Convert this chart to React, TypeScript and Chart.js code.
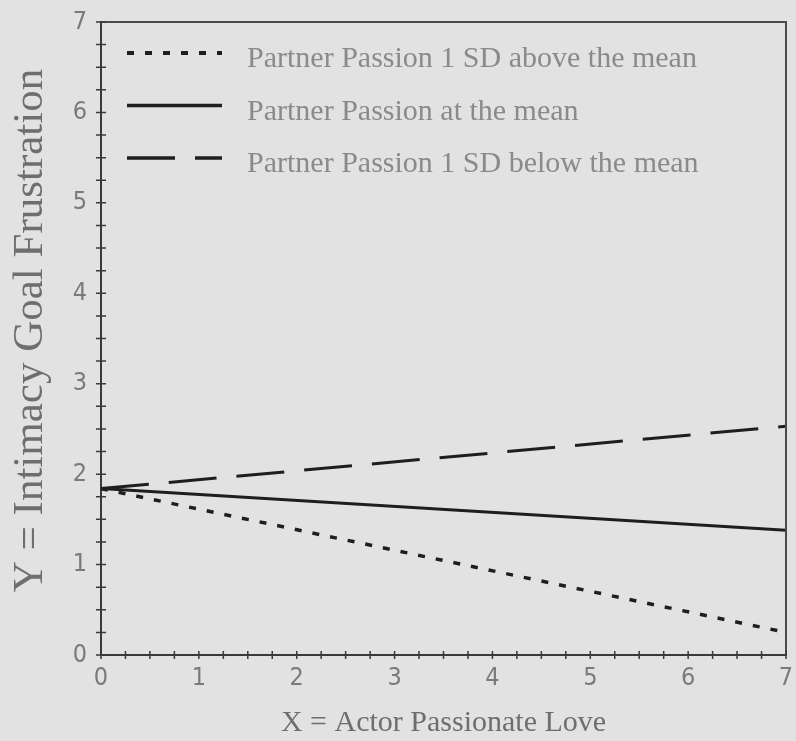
import React, { useEffect, useRef } from "react";
import { Chart, registerables } from "chart.js";

Chart.register(...registerables);

// ---- data ----
const xValues = [0, 7];
const aboveMean = [1.84, 0.25];
const atMean = [1.84, 1.38];
const belowMean = [1.84, 2.53];
const seriesLabels = [
  "Partner Passion 1 SD above the mean",
  "Partner Passion at the mean",
  "Partner Passion 1 SD below the mean",
];
const xTitle = "X = Actor Passionate Love";
const yTitle = "Y = Intimacy Goal Frustration";
const axisMin = 0;
const axisMax = 7;
const minorStep = 0.25;

const LINE_COLOR = "#1e1e1e";
const AXIS_COLOR = "#3a3a3a";
const SERIF = "'Liberation Serif', 'Times New Roman', serif";
const SANS_NARROW = "'Liberation Sans Narrow', 'DejaVu Sans Condensed', 'Liberation Sans', sans-serif";

const crossTicks = {
  id: "crossTicks",
  afterDraw(chart: any) {
    const { ctx, chartArea, scales } = chart;
    const xs = scales.x;
    const ys = scales.y;
    ctx.save();
    ctx.beginPath();
    ctx.moveTo(chartArea.left, chartArea.top);
    ctx.lineTo(chartArea.right, chartArea.top);
    ctx.lineTo(chartArea.right, chartArea.bottom);
    ctx.strokeStyle = "#4a4a4a";
    ctx.lineWidth = 2;
    ctx.stroke();
    ctx.strokeStyle = AXIS_COLOR;
    ctx.lineWidth = 1.5;
    ctx.beginPath();
    xs.ticks.forEach((t: any) => {
      const px = xs.getPixelForValue(t.value);
      ctx.moveTo(px, chartArea.bottom - 4);
      ctx.lineTo(px, chartArea.bottom + 4);
    });
    ys.ticks.forEach((t: any) => {
      const py = ys.getPixelForValue(t.value);
      ctx.moveTo(chartArea.left - 5, py);
      ctx.lineTo(chartArea.left + 5, py);
    });
    ctx.stroke();
    // y axis title
    ctx.save();
    ctx.translate(31, (chartArea.top + chartArea.bottom) / 2 - 8);
    ctx.rotate(-Math.PI / 2);
    ctx.font = `43px ${SERIF}`;
    ctx.fillStyle = "#6e6e6e";
    ctx.textAlign = "center";
    ctx.textBaseline = "middle";
    ctx.fillText(yTitle, 0, 0);
    ctx.restore();
    ctx.restore();
  },
};

const insideLegend = {
  id: "insideLegend",
  afterDraw(chart: any) {
    const { ctx, chartArea } = chart;
    ctx.save();
    const lineStart = chartArea.left + 26;
    const lineEnd = chartArea.left + 121;
    const textX = chartArea.left + 146;
    const firstY = chartArea.top + 31;
    const rowGap = 52.5;
    chart.data.datasets.forEach((ds: any, i: number) => {
      const y = firstY + i * rowGap;
      ctx.beginPath();
      ctx.strokeStyle = ds.borderColor;
      ctx.lineWidth = ds.borderWidth + 0.5;
      ctx.setLineDash(ds.borderDash || []);
      ctx.moveTo(lineStart, y);
      ctx.lineTo(lineEnd, y);
      ctx.stroke();
      ctx.setLineDash([]);
      ctx.fillStyle = "#8a8a8a";
      ctx.font = `30px ${SERIF}`;
      ctx.textBaseline = "alphabetic";
      ctx.textAlign = "left";
      ctx.fillText(ds.label, textX, y + 14);
    });
    ctx.restore();
  },
};

function toPoints(ys: number[]) {
  return xValues.map((x, i) => ({ x, y: ys[i] }));
}

export default function App() {
  const ref = useRef<HTMLCanvasElement | null>(null);
  useEffect(() => {
    if (!ref.current) return;
    const chart = new Chart(ref.current, {
      type: "line",
      data: {
        datasets: [
          {
            label: seriesLabels[0],
            data: toPoints(aboveMean),
            borderColor: LINE_COLOR,
            borderWidth: 3.5,
            borderDash: [7, 11],
            pointRadius: 0,
            fill: false,
          },
          {
            label: seriesLabels[1],
            data: toPoints(atMean),
            borderColor: LINE_COLOR,
            borderWidth: 3,
            borderDash: [],
            pointRadius: 0,
            fill: false,
          },
          {
            label: seriesLabels[2],
            data: toPoints(belowMean),
            borderColor: LINE_COLOR,
            borderWidth: 3,
            borderDash: [48, 20],
            pointRadius: 0,
            fill: false,
          },
        ],
      },
      options: {
        responsive: false,
        animation: false,
        layout: { padding: { top: 22, right: 10, left: 0, bottom: 0 } },
        plugins: {
          legend: { display: false },
          tooltip: { enabled: false },
        },
        scales: {
          x: {
            type: "linear",
            min: axisMin,
            max: axisMax,
            afterFit: (s: any) => {
              s.height = 86;
              s.paddingLeft = 0;
              s.paddingRight = 0;
            },
            grid: { display: false, drawTicks: false },
            border: { display: true, color: AXIS_COLOR, width: 2 },
            ticks: {
              stepSize: minorStep,
              autoSkip: false,
              maxRotation: 0,
              padding: 8,
              color: "#7a7a7a",
              font: { family: SANS_NARROW, size: 25 },
              callback: (v: any) => (Number(v) % 1 === 0 ? String(v) : ""),
            },
            title: {
              display: true,
              text: xTitle,
              color: "#6e6e6e",
              font: { family: SERIF, size: 30 },
              padding: { top: 0, bottom: 0 },
            },
          },
          y: {
            type: "linear",
            min: axisMin,
            max: axisMax,
            afterFit: (s: any) => {
              s.width = 101;
              s.paddingTop = 0;
              s.paddingBottom = 0;
            },
            grid: { display: false, drawTicks: false },
            border: { display: true, color: AXIS_COLOR, width: 2 },
            ticks: {
              stepSize: minorStep,
              autoSkip: false,
              padding: 14,
              color: "#7a7a7a",
              font: { family: SANS_NARROW, size: 25 },
              callback: (v: any) => (Number(v) % 1 === 0 ? String(v) : ""),
            },
            title: { display: false },
          },
        },
      },
      plugins: [crossTicks, insideLegend],
    });
    return () => chart.destroy();
  }, []);
  return (
    <div style={{ position: "absolute", left: 0, top: 0, width: 796, height: 741, background: "#e2e2e2" }}>
      <canvas ref={ref} width={796} height={741} style={{ display: "block" }} />
    </div>
  );
}
